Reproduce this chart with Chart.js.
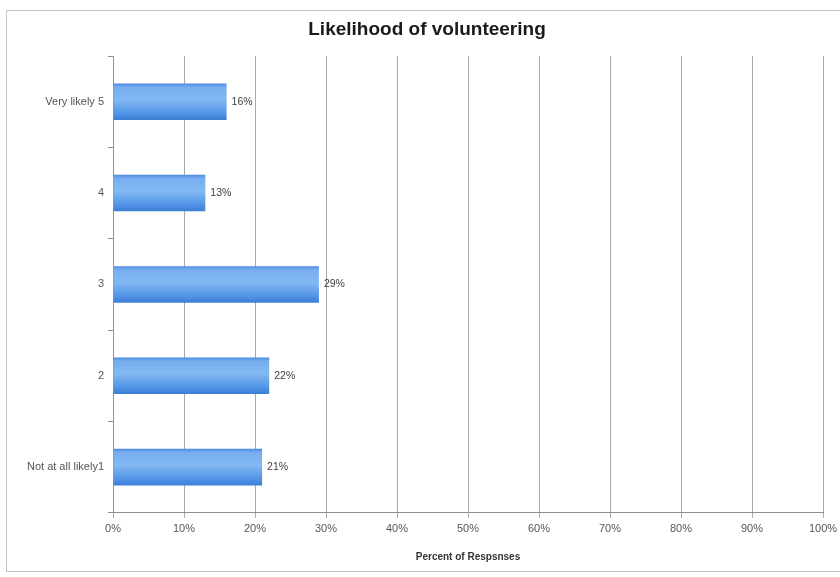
<!DOCTYPE html>
<html>
<head>
<meta charset="utf-8">
<script src="https://cdn.jsdelivr.net/npm/chart.js@4/dist/chart.umd.min.js"></script>
<style>
  html, body { margin: 0; padding: 0; background: #ffffff; }
  #wrap { width: 840px; height: 577px; position: relative; }
</style>
</head>
<body>
<div id="wrap"><canvas id="c" width="840" height="577"></canvas></div>
<script>
// Survey answers, top to bottom
const categories = ["Very likely 5", "4", "3", "2", "Not at all likely1"];
// Share of responses per answer, in percent
const percents = [16, 13, 29, 22, 21];
// Horizontal axis tick values
const xTicks = [0, 10, 20, 30, 40, 50, 60, 70, 80, 90, 100];
const chartTitle = 'Likelihood of volunteering';

const FONT = "'Liberation Sans', Arial, sans-serif";

// Outer frame around the whole chart, plus the heading centred on the frame
const framePlugin = {
  id: 'frame',
  beforeDraw(chart) {
    const ctx = chart.ctx;
    ctx.save();
    ctx.fillStyle = '#ffffff';
    ctx.fillRect(0, 0, chart.width, chart.height);
    ctx.strokeStyle = '#c4c4c4';
    ctx.lineWidth = 1;
    ctx.strokeRect(6.5, 10.5, chart.width + 10, 561);
    ctx.font = 'bold 19px ' + FONT;
    ctx.fillStyle = '#1a1a1a';
    ctx.textAlign = 'center';
    ctx.textBaseline = 'middle';
    ctx.fillText(chartTitle, 427, 30);
    ctx.restore();
  }
};

// Value labels just past the end of each bar
const valueLabels = {
  id: 'valueLabels',
  afterDatasetsDraw(chart) {
    const ctx = chart.ctx;
    const meta = chart.getDatasetMeta(0);
    ctx.save();
    ctx.font = '10.5px ' + FONT;
    ctx.fillStyle = '#404040';
    ctx.textAlign = 'left';
    ctx.textBaseline = 'middle';
    meta.data.forEach((bar, i) => {
      ctx.fillText(percents[i] + '%', bar.x + 5, bar.y);
    });
    ctx.restore();
  }
};

// Vertical shading across each bar, built from the bar's own pixel position
function barGradient(context) {
  const chart = context.chart;
  const yScale = chart.scales && chart.scales.y;
  if (!chart.chartArea || !yScale || context.dataIndex === undefined) return '#5b9be8';
  const cy = yScale.getPixelForValue(context.dataIndex);
  const band = (chart.chartArea.bottom - chart.chartArea.top) / categories.length;
  const h = band * 0.4;
  const top = cy - h / 2, bottom = cy + h / 2;
  if (!Number.isFinite(top) || !Number.isFinite(bottom)) return '#5b9be8';
  const g = chart.ctx.createLinearGradient(0, top, 0, bottom);
  g.addColorStop(0, '#4a8be0');
  g.addColorStop(0.1, '#78aeef');
  g.addColorStop(0.45, '#82b8f2');
  g.addColorStop(0.8, '#5596e8');
  g.addColorStop(1, '#3a7ed5');
  return g;
}

new Chart(document.getElementById('c'), {
  type: 'bar',
  data: {
    labels: categories,
    datasets: [{
      data: percents,
      backgroundColor: barGradient,
      borderWidth: 0,
      categoryPercentage: 1.0,
      barPercentage: 0.4
    }]
  },
  options: {
    indexAxis: 'y',
    responsive: false,
    animation: false,
    layout: { padding: { left: 0, right: 17, top: 56, bottom: 14 } },
    plugins: {
      legend: { display: false },
      tooltip: { enabled: false },
      title: { display: false }
    },
    scales: {
      x: {
        min: 0,
        max: 100,
        afterBuildTicks(scale) {
          scale.ticks = xTicks.map(v => ({ value: v }));
        },
        afterFit(scale) {
          scale.paddingRight = 0;
          scale.paddingLeft = 0;
        },
        ticks: {
          color: '#555555',
          font: { family: FONT, size: 11 },
          padding: 5,
          callback: v => v + '%'
        },
        grid: {
          color: '#a8a8a8',
          lineWidth: 1,
          tickLength: 5,
          drawTicks: true
        },
        border: { color: '#909090' },
        title: {
          display: true,
          text: 'Percent of Respsnses',
          color: '#333333',
          font: { family: FONT, size: 10, weight: 'bold' },
          padding: { top: 10, bottom: 0 }
        }
      },
      y: {
        afterFit(scale) { scale.width = 113; },
        ticks: {
          color: '#555555',
          font: { family: FONT, size: 11 },
          padding: 4
        },
        grid: {
          drawOnChartArea: false,
          drawTicks: true,
          tickLength: 5,
          color: '#909090',
          offset: true
        },
        border: { color: '#909090' }
      }
    }
  },
  plugins: [framePlugin, valueLabels]
});
</script>
</body>
</html>
